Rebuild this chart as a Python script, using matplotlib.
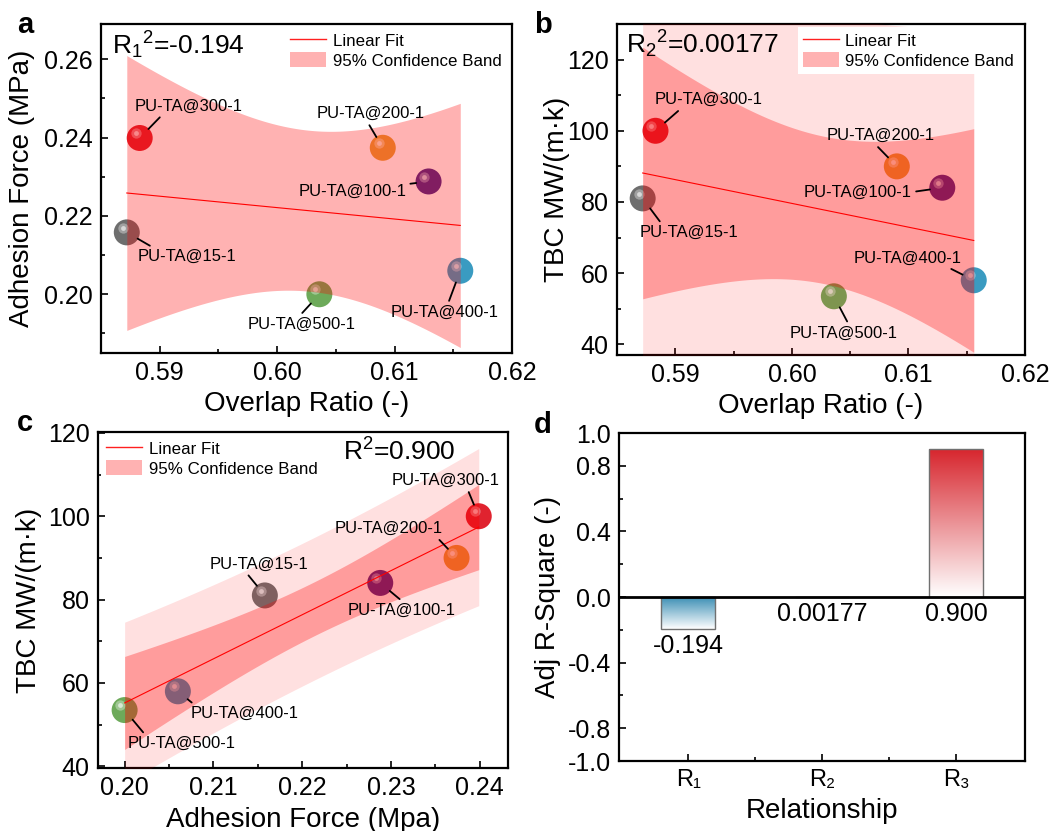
import numpy as np
import matplotlib
matplotlib.use('Agg')
import matplotlib.pyplot as plt
from matplotlib.lines import Line2D
from matplotlib.patches import Patch
from matplotlib.colors import LinearSegmentedColormap
from matplotlib.transforms import offset_copy
from matplotlib.ticker import MultipleLocator, FixedLocator

plt.rcParams['font.family'] = ['Liberation Sans', 'DejaVu Sans']
plt.rcParams['mathtext.fontset'] = 'custom'
plt.rcParams['mathtext.rm'] = 'Liberation Sans'
plt.rcParams['mathtext.it'] = 'Liberation Sans:italic'
plt.rcParams['mathtext.bf'] = 'Liberation Sans:bold'

# data
samples = ['PU-TA@300-1', 'PU-TA@200-1', 'PU-TA@100-1', 'PU-TA@15-1', 'PU-TA@500-1', 'PU-TA@400-1']
overlap = np.array([0.5883, 0.6090, 0.6129, 0.5872, 0.6036, 0.6156])
adhesion = np.array([0.2399, 0.2374, 0.2288, 0.2158, 0.2000, 0.2060])
tbc = np.array([100.0, 90.0, 84.0, 81.0, 53.5, 58.0])
ball_colors = ['#e0232f', '#e6a33a', '#4b2a8c', '#6e6e6e', '#6daa5a', '#3a9bc1']

relations = ['R\u2081', 'R\u2082', 'R\u2083']
adj_r2 = [-0.194, 0.00177, 0.900]
adj_r2_text = ['-0.194', '0.00177', '0.900']
bar_colors = ['#3d8fb5', '#888888', '#d7262e']

T_975_4 = 2.776  # t value, 95%, n-2 = 4 dof

# label offsets (points) and where the leader line meets the label
off_a = [(35, 23), (-9, 24.5), (-55, -7), (43, -17.5), (-12.5, -21.6), (-11.5, -30)]
rel_a = [(0.27, 0), (0.47, 0), (0.93, 0.9), (0.19, 1), (0.47, 1), (0.53, 1)]
off_b = [(38, 22.3), (-11.5, 22), (-60.7, -3.1), (33.6, -24.7), (7.2, -26.4), (-47.5, 16)]
rel_b = [(0.26, 0), (0.44, 0), (1.0, 0.5), (0.23, 1), (0.55, 1), (0.84, 0)]
off_c = [(-24, 25.7), (-49.2, 21.1), (15.6, -19.7), (-4.1, 22.6), (41.3, -24.2), (48.2, -16.1)]
rel_c = [(0.7, 0), (0.94, 0), (0.52, 1), (0.36, 0), (0.17, 1), (0.05, 1)]

fig = plt.figure(figsize=(10.56, 8.31), dpi=100)
ax_a = fig.add_axes([0.0956, 0.5752, 0.3892, 0.3959])
ax_b = fig.add_axes([0.5843, 0.5728, 0.3864, 0.3983])
ax_c = fig.add_axes([0.0928, 0.0758, 0.3883, 0.4043])
ax_d = fig.add_axes([0.5862, 0.0842, 0.3845, 0.3947])


def style_axes(ax):
    for sp in ax.spines.values():
        sp.set_linewidth(1.6)
    ax.tick_params(which='both', direction='in', top=False, right=False, width=1.2)
    ax.tick_params(which='major', length=5, labelsize=18, pad=6)
    ax.tick_params(which='minor', length=3)


def fit_bands(x, y):
    n = len(x)
    slope, icpt = np.polyfit(x, y, 1)
    resid = y - (slope * x + icpt)
    s = np.sqrt(np.sum(resid ** 2) / (n - 2))
    xm = x.mean()
    sxx = np.sum((x - xm) ** 2)
    xs = np.linspace(x.min(), x.max(), 200)
    yf = slope * xs + icpt
    conf = T_975_4 * s * np.sqrt(1.0 / n + (xs - xm) ** 2 / sxx)
    pred = T_975_4 * s * np.sqrt(1 + 1.0 / n + (xs - xm) ** 2 / sxx)
    return xs, yf, conf, pred


def draw_panel(ax, x, y, offsets, rels, show_pred):
    # spheres
    ax.scatter(x, y, s=350, c=ball_colors, lw=0, zorder=2)
    hl = offset_copy(ax.transData, fig=fig, x=-3, y=3.5, units='points')
    ax.scatter(x, y, s=55, c='white', alpha=0.35, lw=0, zorder=2.1, transform=hl)
    ax.scatter(x, y, s=12, c='white', alpha=0.6, lw=0, zorder=2.2, transform=hl)
    xs, yf, conf, pred = fit_bands(x, y)
    if show_pred:
        ax.fill_between(xs, yf - pred, yf + pred, color='red', alpha=0.12, lw=0, zorder=3)
    ax.fill_between(xs, yf - conf, yf + conf, color='red', alpha=0.3, lw=0, zorder=3.1)
    ax.plot(xs, yf, color='red', lw=0.8, zorder=4)
    for i, name in enumerate(samples):
        ax.annotate(name, xy=(x[i], y[i]), xytext=offsets[i], textcoords='offset points',
                    ha='center', va='center', fontsize=12, zorder=6,
                    arrowprops=dict(arrowstyle='-', color='black', lw=1.3,
                                    shrinkA=1, shrinkB=9, relpos=rels[i]))


def add_legend(ax, anchor):
    handles = [Line2D([], [], color='#ff2020', lw=1.0),
               Patch(facecolor='red', alpha=0.3, lw=0)]
    leg = ax.legend(handles, ['Linear Fit', '95% Confidence Band'], loc='upper left',
                    bbox_to_anchor=anchor, fontsize=12.2, frameon=True, fancybox=False,
                    edgecolor='none', facecolor='white', framealpha=1,
                    handlelength=2.1, handleheight=1.0, labelspacing=0.2,
                    handletextpad=0.4, borderpad=0.3, borderaxespad=0.2)
    leg.set_zorder(7)


# panel a
style_axes(ax_a)
draw_panel(ax_a, overlap, adhesion, off_a, rel_a, False)
ax_a.set_xlim(0.585, 0.62)
ax_a.set_ylim(0.185, 0.269)
ax_a.xaxis.set_major_locator(FixedLocator([0.59, 0.60, 0.61, 0.62]))
ax_a.xaxis.set_minor_locator(FixedLocator([0.595, 0.605, 0.615]))
ax_a.yaxis.set_major_locator(FixedLocator([0.20, 0.22, 0.24, 0.26]))
ax_a.yaxis.set_minor_locator(FixedLocator([0.19, 0.21, 0.23, 0.25]))
ax_a.xaxis.set_major_formatter(lambda v, p: f'{v:.2f}')
ax_a.yaxis.set_major_formatter(lambda v, p: f'{v:.2f}')
ax_a.set_xlabel('Overlap Ratio (-)', fontsize=20)
ax_a.set_ylabel('Adhesion Force (MPa)', fontsize=20)
ax_a.xaxis.set_label_coords(0.5, -0.115)
ax_a.yaxis.set_label_coords(-0.16, 0.5)
add_legend(ax_a, (0.44, 1.0))
ax_a.text(0.027, 0.935, r'$\mathrm{R_1{}^2}$=-0.194', transform=ax_a.transAxes,
          fontsize=19, va='center', ha='left', zorder=8)

# panel b
style_axes(ax_b)
draw_panel(ax_b, overlap, tbc, off_b, rel_b, True)
ax_b.set_xlim(0.585, 0.62)
ax_b.set_ylim(37, 130)
ax_b.xaxis.set_major_locator(FixedLocator([0.59, 0.60, 0.61, 0.62]))
ax_b.xaxis.set_minor_locator(FixedLocator([0.595, 0.605, 0.615]))
ax_b.yaxis.set_major_locator(MultipleLocator(20))
ax_b.yaxis.set_minor_locator(FixedLocator([50, 70, 90, 110]))
ax_b.xaxis.set_major_formatter(lambda v, p: f'{v:.2f}')
ax_b.set_xlabel('Overlap Ratio (-)', fontsize=20)
ax_b.set_ylabel('TBC MW/(m\u00b7k)', fontsize=20)
ax_b.xaxis.set_label_coords(0.5, -0.115)
ax_b.yaxis.set_label_coords(-0.115, 0.5)
add_legend(ax_b, (0.435, 1.0))
ax_b.text(0.022, 0.94, r'$\mathrm{R_2{}^2}$=0.00177', transform=ax_b.transAxes,
          fontsize=19, va='center', ha='left', zorder=8)

# panel c
style_axes(ax_c)
draw_panel(ax_c, adhesion, tbc, off_c, rel_c, True)
ax_c.set_xlim(0.197, 0.2432)
ax_c.set_ylim(39.6, 120.2)
ax_c.xaxis.set_major_locator(FixedLocator([0.20, 0.21, 0.22, 0.23, 0.24]))
ax_c.xaxis.set_minor_locator(FixedLocator([0.205, 0.215, 0.225, 0.235]))
ax_c.yaxis.set_major_locator(FixedLocator([40, 60, 80, 100, 120]))
ax_c.yaxis.set_minor_locator(FixedLocator([50, 70, 90, 110]))
ax_c.xaxis.set_major_formatter(lambda v, p: f'{v:.2f}')
ax_c.set_xlabel('Adhesion Force (Mpa)', fontsize=20)
ax_c.set_ylabel('TBC MW/(m\u00b7k)', fontsize=20)
ax_c.xaxis.set_label_coords(0.5, -0.116)
ax_c.yaxis.set_label_coords(-0.137, 0.5)
add_legend(ax_c, (0.0, 1.0))
ax_c.text(0.598, 0.94, r'R$^2$=0.900', transform=ax_c.transAxes,
          fontsize=19, va='center', ha='left', zorder=8)

# panel d
style_axes(ax_d)
pos = np.arange(len(relations))
bars = ax_d.bar(pos, adj_r2, width=0.4, color='none', edgecolor='#707070', lw=1.0, zorder=3)
grad = np.linspace(0, 1, 256).reshape(-1, 1)
for b, col in zip(bars, bar_colors):
    cmap = LinearSegmentedColormap.from_list('g', ['white', col])
    x0, y0 = b.get_x(), b.get_y()
    w, h = b.get_width(), b.get_height()
    ylo, yhi = min(y0, y0 + h), max(y0, y0 + h)
    im = ax_d.imshow(grad, cmap=cmap, origin='lower', aspect='auto',
                     extent=[x0, x0 + w, ylo, yhi], zorder=2)
    im.set_clip_path(b)
ax_d.axhline(0, color='black', lw=2, zorder=4)
for p, v, t in zip(pos, adj_r2, adj_r2_text):
    ax_d.text(p, min(v, 0) - 0.105, t, ha='center', va='center', fontsize=18, zorder=5)
ax_d.set_xlim(-0.516, 2.516)
ax_d.set_ylim(-1.0, 1.0)
ax_d.set_xticks(pos)
ax_d.set_xticklabels(relations, fontsize=17)
ax_d.xaxis.set_minor_locator(FixedLocator([0.5, 1.5]))
ax_d.yaxis.set_major_locator(FixedLocator([-1.0, -0.8, -0.4, 0.0, 0.4, 0.8, 1.0]))
ax_d.yaxis.set_minor_locator(FixedLocator([-0.6, -0.2, 0.2, 0.6]))
ax_d.yaxis.set_major_formatter(lambda v, p: f'{v:.1f}')
ax_d.set_xlabel('Relationship', fontsize=20)
ax_d.set_ylabel('Adj R-Square (-)', fontsize=20)
ax_d.xaxis.set_label_coords(0.5, -0.113)
ax_d.yaxis.set_label_coords(-0.143, 0.5)

# panel letters
for lbl, (px, py) in zip('abcd', [(25, 25), (543, 25), (25, 423), (543, 425)]):
    fig.text(px / 1056, 1 - py / 831, lbl, fontsize=21, fontweight='bold',
             ha='center', va='center')

fig.savefig('out.png', dpi=100)
